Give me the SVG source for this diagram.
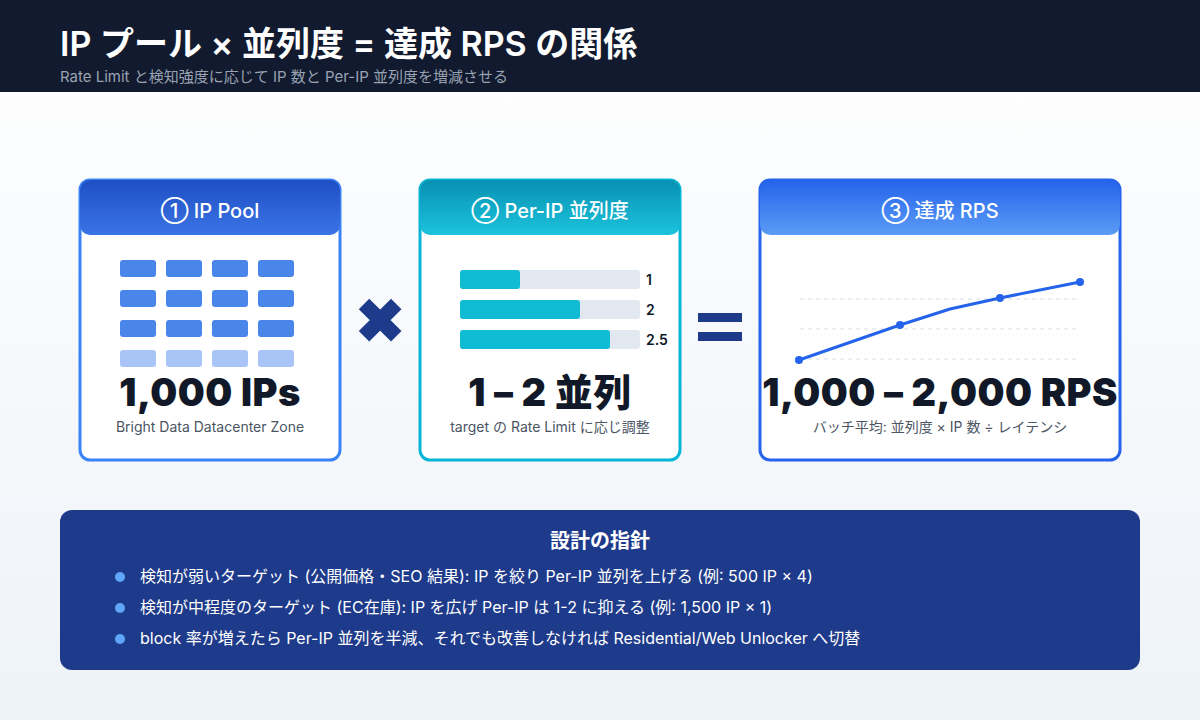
<svg xmlns="http://www.w3.org/2000/svg" width="1200" height="720" viewBox="0 0 1200 720">
<defs>
<linearGradient id="bg" x1="0" y1="0" x2="0" y2="1"><stop offset="0" stop-color="#ffffff"/><stop offset="1" stop-color="#eef3f8"/></linearGradient>
<linearGradient id="h1" x1="0" y1="0" x2="0" y2="1"><stop offset="0" stop-color="#1e4fc2"/><stop offset="1" stop-color="#3b74e6"/></linearGradient>
<linearGradient id="h2" x1="0" y1="0" x2="0" y2="1"><stop offset="0" stop-color="#0891b2"/><stop offset="1" stop-color="#1cc3dc"/></linearGradient>
<linearGradient id="h3" x1="0" y1="0" x2="0" y2="1"><stop offset="0" stop-color="#2563eb"/><stop offset="1" stop-color="#5b9cf6"/></linearGradient>
<style>
text{font-family:Inter,"Noto Sans CJK JP",sans-serif}
.card{fill:#fff;stroke-width:3}
.ht{fill:#fff;font-size:20px;font-weight:500;text-anchor:middle}
.big{fill:#111827;font-size:38px;font-weight:900;text-anchor:middle;letter-spacing:0.5px}
.sub{fill:#4b5563;font-size:14px;text-anchor:middle}
.g{fill:#4a86ea}.gl{fill:#a9c4f7}
.tr{fill:#e2e8f0}.bf{fill:#0fbcd4}
.bl{font-size:14px;font-weight:600;fill:#111827}
.dl{stroke:#d8dee6;stroke-dasharray:4 4;stroke-width:1.2}
.li{fill:#fff;font-size:16px}
</style>
</defs>
<rect width="1200" height="720" fill="url(#bg)"/>
<rect width="1200" height="92" fill="#111a2e"/>
<text x="60" y="56" fill="#fff" font-size="34" font-weight="600">IP プール × 並列度 = 達成 RPS の関係</text>
<text x="60" y="82" fill="#9aa3b2" font-size="15">Rate Limit と検知強度に応じて IP 数と Per-IP 並列度を増減させる</text>

<g id="pool">
<rect class="card" x="80" y="180" width="260" height="280" rx="10" stroke="#3b82f6"/>
<path d="M80 190a10 10 0 0 1 10-10h240a10 10 0 0 1 10 10v35a10 10 0 0 1-10 10H90a10 10 0 0 1-10-10z" fill="url(#h1)"/>
<text class="ht" x="210" y="218">① IP Pool</text>
<g class="g">
<rect x="120" y="260" width="36" height="17" rx="3"/><rect x="166" y="260" width="36" height="17" rx="3"/><rect x="212" y="260" width="36" height="17" rx="3"/><rect x="258" y="260" width="36" height="17" rx="3"/>
<rect x="120" y="290" width="36" height="17" rx="3"/><rect x="166" y="290" width="36" height="17" rx="3"/><rect x="212" y="290" width="36" height="17" rx="3"/><rect x="258" y="290" width="36" height="17" rx="3"/>
<rect x="120" y="320" width="36" height="17" rx="3"/><rect x="166" y="320" width="36" height="17" rx="3"/><rect x="212" y="320" width="36" height="17" rx="3"/><rect x="258" y="320" width="36" height="17" rx="3"/>
</g>
<g class="gl">
<rect x="120" y="350" width="36" height="17" rx="3"/><rect x="166" y="350" width="36" height="17" rx="3"/><rect x="212" y="350" width="36" height="17" rx="3"/><rect x="258" y="350" width="36" height="17" rx="3"/>
</g>
<text class="big" x="210" y="406">1,000 IPs</text>
<text class="sub" x="210" y="432">Bright Data Datacenter Zone</text>
</g>

<g id="times"><text x="380" y="342" font-size="60" font-weight="900" fill="#1e3a8a" text-anchor="middle">✖</text></g>

<g id="perip">
<rect class="card" x="420" y="180" width="260" height="280" rx="10" stroke="#06b6d4"/>
<path d="M420 190a10 10 0 0 1 10-10h240a10 10 0 0 1 10 10v35a10 10 0 0 1-10 10H430a10 10 0 0 1-10-10z" fill="url(#h2)"/>
<text class="ht" x="550" y="218">② Per-IP 並列度</text>
<rect class="tr" x="460" y="270" width="180" height="19" rx="3"/><rect class="bf" x="460" y="270" width="60" height="19" rx="3"/><text class="bl" x="646" y="285">1</text>
<rect class="tr" x="460" y="300" width="180" height="19" rx="3"/><rect class="bf" x="460" y="300" width="120" height="19" rx="3"/><text class="bl" x="646" y="315">2</text>
<rect class="tr" x="460" y="330" width="180" height="19" rx="3"/><rect class="bf" x="460" y="330" width="150" height="19" rx="3"/><text class="bl" x="646" y="345">2.5</text>
<text class="big" x="550" y="406">1 – 2 並列</text>
<text class="sub" x="550" y="432">target の Rate Limit に応じ調整</text>
</g>

<g id="equals"><rect x="698" y="313" width="44" height="9" fill="#1e3a8a"/><rect x="698" y="332" width="44" height="9" fill="#1e3a8a"/></g>

<g id="rps">
<rect class="card" x="760" y="180" width="360" height="280" rx="10" stroke="#2563eb"/>
<path d="M760 190a10 10 0 0 1 10-10h340a10 10 0 0 1 10 10v35a10 10 0 0 1-10 10H770a10 10 0 0 1-10-10z" fill="url(#h3)"/>
<text class="ht" x="940" y="218">③ 達成 RPS</text>
<line class="dl" x1="800" y1="299" x2="1076" y2="299"/><line class="dl" x1="800" y1="329" x2="1076" y2="329"/><line class="dl" x1="800" y1="359" x2="1076" y2="359"/>
<polyline points="799,360 900,325 950,309 1000,298 1080,282" fill="none" stroke="#2563eb" stroke-width="3"/>
<g fill="#2563eb"><circle cx="799" cy="360" r="4"/><circle cx="900" cy="325" r="4"/><circle cx="1000" cy="298" r="4"/><circle cx="1080" cy="282" r="4"/></g>
<text class="big" x="940" y="406">1,000 – 2,000 RPS</text>
<text class="sub" x="940" y="432" font-size="13">バッチ平均: 並列度 × IP 数 ÷ レイテンシ</text>
</g>

<g id="guide">
<rect x="60" y="510" width="1080" height="160" rx="12" fill="#1e3a8a"/>
<text x="600" y="548" fill="#fff" font-size="20" font-weight="700" text-anchor="middle">設計の指針</text>
<g fill="#60a5fa"><circle cx="120" cy="577" r="5"/><circle cx="120" cy="608" r="5"/><circle cx="120" cy="639" r="5"/></g>
<text class="li" x="140" y="582">検知が弱いターゲット (公開価格・SEO 結果): IP を絞り Per-IP 並列を上げる (例: 500 IP × 4)</text>
<text class="li" x="140" y="613">検知が中程度のターゲット (EC在庫): IP を広げ Per-IP は 1-2 に抑える (例: 1,500 IP × 1)</text>
<text class="li" x="140" y="644">block 率が増えたら Per-IP 並列を半減、それでも改善しなければ Residential/Web Unlocker へ切替</text>
</g>
</svg>
